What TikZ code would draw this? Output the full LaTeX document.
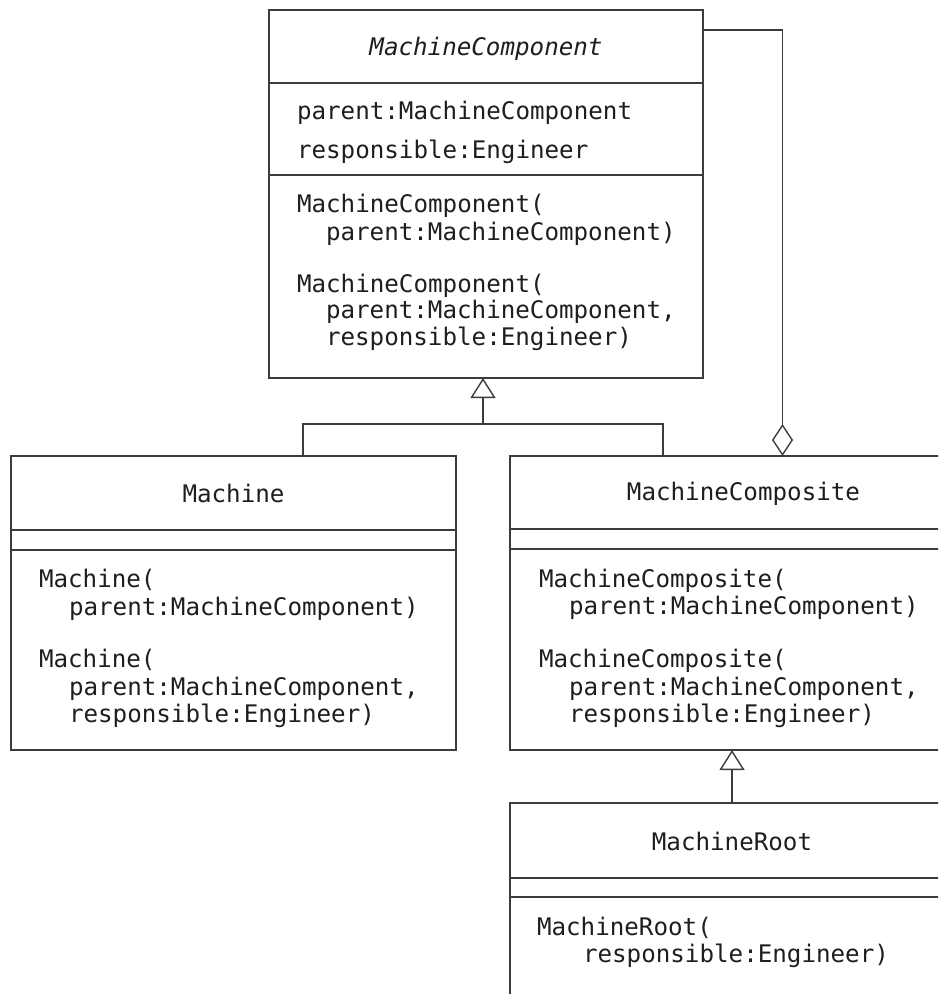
\documentclass[tikz,border=0pt]{standalone}
\usepackage{fontspec}
\setmonofont{DejaVu Sans Mono}
\usetikzlibrary{arrows.meta}
\definecolor{linec}{HTML}{3C3C3C}
\definecolor{textc}{HTML}{1E1E1E}
\tikzset{
  umlbox/.style={draw=linec, line width=1.4pt, rectangle, inner sep=0pt, outer sep=0pt, fill=white},
  divider/.style={draw=linec, line width=1.4pt},
  conn/.style={draw=linec, line width=1.4pt},
  txt/.style={inner sep=0pt, outer sep=0pt, text=textc, font=\ttfamily\fontsize{24.2}{27}\selectfont, anchor=base west},
  ctxt/.style={txt, anchor=base},
  gentip/.style={-{Triangle[open, width=25pt, length=20pt]}},
  aggtip/.style={{Diamond[open, width=21pt, length=32pt]}-},
}
\begin{document}
\begin{tikzpicture}[x=1pt, y=-1pt]
\useasboundingbox (0,0) rectangle (938,994);
\clip (0,0) rectangle (938,994);

% MachineComponent
\node[umlbox, minimum width=434pt, minimum height=368pt] (mc) at (486,194) {};
\draw[divider] (mc.west |- 0,83) -- (mc.east |- 0,83);
\draw[divider] (mc.west |- 0,175) -- (mc.east |- 0,175);
\node[ctxt] (mcname) at (486,55) {\itshape MachineComponent};
\node[txt] (mca1) at (297,119) {parent:MachineComponent};
\node[txt] (mca2) at (297,158) {responsible:Engineer};
\node[txt] (mco1) at (297,212) {MachineComponent(};
\node[txt] (mco2) at (326,240) {parent:MachineComponent)};
\node[txt] (mco3) at (297,292) {MachineComponent(};
\node[txt] (mco4) at (326,318) {parent:MachineComponent,};
\node[txt] (mco5) at (326,345) {responsible:Engineer)};

% Machine
\node[umlbox, minimum width=445pt, minimum height=294pt] (machine) at (233.5,603) {};
\draw[divider] (machine.west |- 0,530) -- (machine.east |- 0,530);
\draw[divider] (machine.west |- 0,550) -- (machine.east |- 0,550);
\node[ctxt] (machinename) at (233.5,502) {Machine};
\node[txt] (mo1) at (39,587) {Machine(};
\node[txt] (mo2) at (69,615) {parent:MachineComponent)};
\node[txt] (mo3) at (39,667) {Machine(};
\node[txt] (mo4) at (69,695) {parent:MachineComponent,};
\node[txt] (mo5) at (69,722) {responsible:Engineer)};

% MachineComposite
\node[umlbox, minimum width=467pt, minimum height=294pt] (comp) at (743.5,603) {};
\draw[divider] (comp.west |- 0,529) -- (comp.east |- 0,529);
\draw[divider] (comp.west |- 0,549) -- (comp.east |- 0,549);
\node[ctxt] (compname) at (743.5,500) {MachineComposite};
\node[txt] (co1) at (539,587) {MachineComposite(};
\node[txt] (co2) at (569,614) {parent:MachineComponent)};
\node[txt] (co3) at (539,667) {MachineComposite(};
\node[txt] (co4) at (569,695) {parent:MachineComponent,};
\node[txt] (co5) at (569,722) {responsible:Engineer)};

% MachineRoot
\node[umlbox, minimum width=444pt, minimum height=260pt] (root) at (732,933) {};
\draw[divider] (root.west |- 0,878) -- (root.east |- 0,878);
\draw[divider] (root.west |- 0,897) -- (root.east |- 0,897);
\node[ctxt] (rootname) at (732,850) {MachineRoot};
\node[txt] (ro1) at (537,935) {MachineRoot(};
\node[txt] (ro2) at (583,962) {responsible:Engineer)};

% Generalization Machine / MachineComposite -> MachineComponent
\coordinate (genj) at (483,424);
\draw[conn] ([xshift=69.5pt]machine.north) |- (genj) -| ([xshift=-80.5pt]comp.north);
\draw[conn, gentip] (genj) -- (genj |- mc.south);

% Generalization MachineRoot -> MachineComposite
\draw[conn, gentip] (root.north) -- (root.north |- comp.south);

% Aggregation MachineComposite <>-- MachineComponent
\draw[conn, aggtip] ([xshift=39pt]comp.north) |- ([yshift=164pt]mc.east);
\end{tikzpicture}
\end{document}
